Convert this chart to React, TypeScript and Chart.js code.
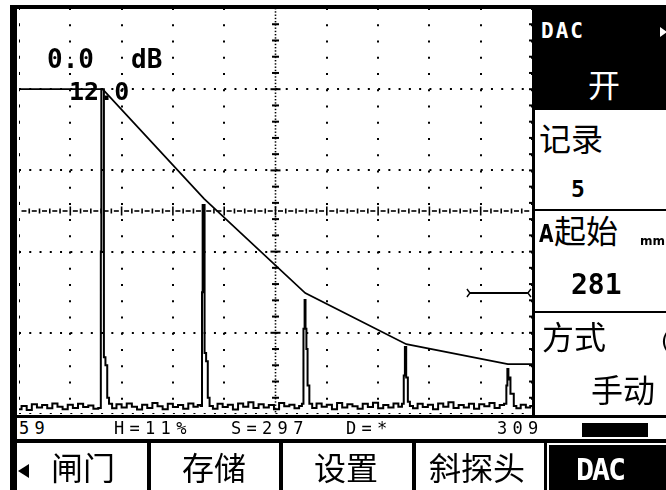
import React, { useEffect, useRef } from 'react';
import { Chart, registerables } from 'chart.js';
Chart.register(...registerables);

// A-scan trace: horizontal position (0..100 = 10 divisions) and amplitude (%)
const traceX = [
  0, 1, 2, 3, 4, 5, 6, 7, 8, 9, 10, 11, 12, 13, 14, 15,
  15.9, 16.0, 16.1, 16.5, 16.6, 17.1, 17.3, 17.8,
  18.5, 19.5, 20.5, 21.5, 22.5, 23.5, 24.5, 25.5, 26.5, 27.5, 28.5, 29.5, 30.5, 31.5, 32.5, 33.5, 34.5, 35.2,
  35.6, 35.75, 35.85, 36.1, 36.25, 36.7, 36.9, 37.4,
  38.2, 39.2, 40.2, 41.2, 42.2, 43.2, 44.2, 45.2, 46.2, 47.2, 48.2, 49.2, 50.2, 51.2, 52.2, 53.2, 54.2, 55.0,
  55.3, 55.6, 55.75, 55.95, 56.1, 56.4, 56.8,
  57.5, 58.5, 59.5, 60.5, 61.5, 62.5, 63.5, 64.5, 65.5, 66.5, 67.5, 68.5, 69.5, 70.5, 71.5, 72.5, 73.5, 74.4,
  74.9, 75.1, 75.35, 75.6, 76.0, 76.4,
  77.2, 78.2, 79.2, 80.2, 81.2, 82.2, 83.2, 84.2, 85.2, 86.2, 87.2, 88.2, 89.2, 90.2, 91.2, 92.2, 93.2, 94.2,
  94.9, 95.1, 95.3, 95.5, 95.7, 95.9, 96.3, 96.6,
  97.3, 98.3, 99.3, 100,
];
const traceY = [
  1.2, 2.0, 1.0, 2.4, 1.6, 2.2, 1.4, 2.6, 1.8, 1.2, 2.3, 1.5, 2.5, 1.7, 2.1, 1.3,
  1.5, 40, 80, 80, 14, 12, 4, 2.5,
  1.4, 2.4, 1.6, 2.6, 1.8, 1.1, 2.3, 1.5, 2.7, 1.9, 1.2, 2.5, 1.7, 2.2, 1.3, 2.6, 1.8, 2.2,
  2.0, 30, 51.5, 51.5, 15, 13, 4, 2.0,
  1.3, 2.5, 1.7, 2.3, 1.1, 2.6, 1.8, 2.9, 1.5, 2.4, 1.6, 2.2, 1.2, 2.7, 1.9, 2.3, 1.4, 2.0,
  2.5, 21, 28.1, 21, 16, 7, 2.5,
  1.5, 2.6, 1.8, 2.3, 1.2, 2.7, 1.6, 2.4, 1.9, 1.3, 2.5, 1.7, 2.8, 1.4, 2.2, 1.6, 2.6, 1.8,
  2.5, 9.5, 16.5, 9, 3, 2.0,
  1.4, 2.5, 1.7, 2.3, 1.2, 2.6, 1.8, 2.9, 1.5, 2.2, 1.6, 2.5, 1.3, 2.4, 1.9, 2.7, 1.5, 2.2,
  2.5, 7, 11.1, 8.5, 9, 5, 5, 2.0,
  1.4, 2.3, 1.6, 2.0,
];

// DAC curve
const dacX = [0, 16.3, 36.1, 55.8, 75.5, 95.3, 100];
const dacY = [80, 80, 53, 29.8, 17.2, 12.3, 12.3];

// Gate
const gateX = [87.9, 99.2];
const gateY = [29.8, 29.8];

const menuLabels = ['闸门', '存储', '设置', '斜探头', 'DAC'];
const statusTexts = ['59', 'H=11%', 'S=297', 'D=*', '309'];
const gainText = '0.0';
const gainUnit = 'dB';
const dacLevelText = '12.0';
const panelTitles = ['DAC', '记录', '起始', '方式'];
const panelValues = ['开', '5', '281', '手动'];

const toPts = (xs: number[], ys: number[]) => xs.map((x, i) => ({ x, y: ys[i] }));

const decorPlugin = {
  id: 'decor',
  afterDatasetsDraw(chart: any) {
    const { ctx, chartArea, scales } = chart;
    const { left, right, top, bottom } = chartArea;
    const xs = scales.x;
    const ys = scales.y;
    const cx = xs.getPixelForValue(50);
    const cy = ys.getPixelForValue(50);
    const h = bottom - top;
    const w = right - left;
    ctx.save();
    ctx.fillStyle = '#000';
    // vertical centre line: dense dots with ticks
    for (let py = top; py < bottom; py += 3.25) ctx.fillRect(cx - 0.8, py, 1.6, 1.4);
    for (let i = 1; i < 25; i++) {
      const py = top + (h * i) / 25;
      const len = i % 5 === 0 ? 10 : 7;
      ctx.fillRect(cx - len / 2, py - 1, len, 2);
    }
    // horizontal centre line: dashes with ticks
    for (let i = 0; i < 50; i++) {
      const px = left + (w * i) / 50;
      ctx.fillRect(px + 2.5, cy - 0.8, 5, 1.6);
    }
    for (let i = 1; i < 50; i++) {
      const px = left + (w * i) / 50;
      const len = i % 5 === 0 ? 9 : 5;
      ctx.fillRect(px - 0.8, cy - len / 2, 1.6, len);
    }
    // edge ticks
    for (let i = 1; i < 25; i++) {
      const py = top + (h * i) / 25;
      ctx.fillRect(left - 2, py - 1, 3, 2);
      ctx.fillRect(right - 3, py - 1, 3, 2);
    }
    // gate end marks
    const gl = xs.getPixelForValue(gateX[0]);
    const gr = xs.getPixelForValue(gateX[1]);
    const gy = ys.getPixelForValue(gateY[0]);
    ctx.strokeStyle = '#000';
    ctx.lineWidth = 1.4;
    ctx.beginPath();
    ctx.moveTo(gl - 3, gy - 4); ctx.lineTo(gl, gy); ctx.lineTo(gl - 3, gy + 4);
    ctx.moveTo(gr + 3, gy - 4); ctx.lineTo(gr, gy); ctx.lineTo(gr + 3, gy + 4);
    ctx.stroke();
    ctx.restore();
  },
};

const abs = (l: number, t: number, w: number, h: number, bg = '#000'): React.CSSProperties => ({
  position: 'absolute', left: l, top: t, width: w, height: h, background: bg,
});

const monoText = (l: number, baseline: number, size: number, bold: boolean, color = '#000', extra: React.CSSProperties = {}): React.CSSProperties => ({
  position: 'absolute', left: l, top: baseline - 0.846 * size, fontFamily: '"DejaVu Sans Mono", monospace',
  fontSize: size, lineHeight: `${size}px`, fontWeight: bold ? 700 : 400, color, whiteSpace: 'nowrap', ...extra,
});

const cjkText = (l: number, center: number, size: number, color = '#000'): React.CSSProperties => ({
  position: 'absolute', left: l, top: center - 0.57 * size, fontFamily: '"Noto Sans CJK SC", sans-serif',
  fontSize: size, lineHeight: `${size}px`, color, whiteSpace: 'nowrap',
});

export default function App() {
  const ref = useRef<HTMLCanvasElement>(null);
  useEffect(() => {
    if (!ref.current) return;
    const chart = new Chart(ref.current, {
      type: 'line',
      data: {
        datasets: [
          { data: toPts(traceX, traceY), borderColor: '#000', borderWidth: 2, pointRadius: 0, tension: 0, stepped: 'middle' } as any,
          { data: toPts(dacX, dacY), borderColor: '#000', borderWidth: 1.7, pointRadius: 0, tension: 0 },
          { data: toPts(gateX, gateY), borderColor: '#000', borderWidth: 1.8, pointRadius: 0, tension: 0 },
        ],
      },
      options: {
        animation: false,
        responsive: false,
        maintainAspectRatio: false,
        layout: { padding: 0 },
        plugins: { legend: { display: false }, tooltip: { enabled: false } },
        scales: {
          x: {
            type: 'linear', min: 0, max: 100,
            ticks: { display: false, stepSize: 10 },
            grid: { color: (c: any) => (c.tick && (c.tick.value === 50) ? 'rgba(0,0,0,0)' : '#000'), lineWidth: 2, drawTicks: false },
            border: { display: false, dash: [2, 14.24] },
          },
          y: {
            type: 'linear', min: 0, max: 100,
            ticks: { display: false, stepSize: 20 },
            grid: { color: '#000', lineWidth: 2, drawTicks: false },
            border: { display: false, dash: [2, 8.26] },
          },
        },
      } as any,
      plugins: [decorPlugin],
    });
    return () => chart.destroy();
  }, []);

  const menuLeft = [51, 182, 314, 429];
  return (
    <div style={{ position: 'fixed', left: 0, top: 0, width: 666, height: 490, background: '#fff', overflow: 'hidden' }}>
      <canvas ref={ref} width={513} height={406} style={{ position: 'absolute', left: 19, top: 8, width: 513, height: 406 }} />
      {/* frame */}
      <div style={abs(10, 5, 656, 4)} />
      <div style={abs(10, 5, 7, 485)} />
      <div style={abs(532, 5, 3, 412)} />
      <div style={abs(535, 9, 131, 101)} />
      <div style={abs(535, 209, 131, 2)} />
      <div style={abs(535, 311, 131, 2)} />
      <div style={abs(17, 415, 649, 3)} />
      <div style={abs(17, 439, 649, 4)} />
      <div style={abs(147, 439, 4, 51)} />
      <div style={abs(279, 439, 4, 51)} />
      <div style={abs(412, 439, 4, 51)} />
      <div style={abs(544, 439, 3, 51)} />
      <div style={abs(549, 445, 117, 45)} />
      <div style={abs(582, 423, 66, 14)} />

      {/* plot labels */}
      <div style={monoText(47, 68, 26, true)}>{gainText}</div>
      <div style={monoText(131, 68, 26, true)}>{gainUnit}</div>
      <div style={monoText(69, 100, 25, true)}>{dacLevelText}</div>

      {/* status row */}
      <div style={monoText(19, 434, 17, false, '#000', { letterSpacing: 5.3 })}>{statusTexts[0]}</div>
      <div style={monoText(114, 434, 17, false, '#000', { letterSpacing: 5.3 })}>{statusTexts[1]}</div>
      <div style={monoText(231, 434, 17, false, '#000', { letterSpacing: 5.3 })}>{statusTexts[2]}</div>
      <div style={monoText(346, 434, 17, false, '#000', { letterSpacing: 5.3 })}>{statusTexts[3]}</div>
      <div style={monoText(497, 434, 17, false, '#000', { letterSpacing: 5.3 })}>{statusTexts[4]}</div>

      {/* right panel */}
      <div style={monoText(541, 39, 21, true, '#fff', { letterSpacing: 2 })}>{panelTitles[0]}</div>
      <div style={{ position: 'absolute', left: 660, top: 27, width: 0, height: 0, borderTop: '5px solid transparent', borderBottom: '5px solid transparent', borderLeft: '7px solid #fff' }} />
      <div style={cjkText(588, 85, 32, '#fff')}>{panelValues[0]}</div>
      <div style={cjkText(539, 139, 32)}>{panelTitles[1]}</div>
      <div style={monoText(571, 197, 23, true)}>{panelValues[1]}</div>
      <div style={{ position: 'absolute', left: 539, top: 244 - 0.93 * 25, fontFamily: '"DejaVu Sans", sans-serif', fontWeight: 700, fontSize: 25, lineHeight: '25px', transform: 'scaleX(0.75)', transformOrigin: 'left' }}>A</div>
      <div style={cjkText(554, 231, 32)}>{panelTitles[2]}</div>
      <div style={{ position: 'absolute', left: 640, top: 235, fontFamily: '"DejaVu Sans", sans-serif', fontWeight: 700, fontSize: 12, lineHeight: '12px' }}>mm</div>
      <div style={monoText(571, 295, 28, true)}>{panelValues[2]}</div>
      <div style={cjkText(542, 337, 32)}>{panelTitles[3]}</div>
      <div style={{ position: 'absolute', left: 661, top: 330, fontFamily: '"DejaVu Sans", sans-serif', fontSize: 22, lineHeight: '22px' }}>(</div>
      <div style={cjkText(591, 390, 32)}>{panelValues[3]}</div>

      {/* menu */}
      <div style={{ position: 'absolute', left: 18, top: 464, width: 0, height: 0, borderTop: '7px solid transparent', borderBottom: '7px solid transparent', borderRight: '11px solid #000' }} />
      {menuLabels.slice(0, 4).map((t, i) => (
        <div key={t} style={cjkText(menuLeft[i], 468, 32)}>{t}</div>
      ))}
      <div style={monoText(576, 480, 30, true, '#fff', { letterSpacing: -2 })}>{menuLabels[4]}</div>
    </div>
  );
}
